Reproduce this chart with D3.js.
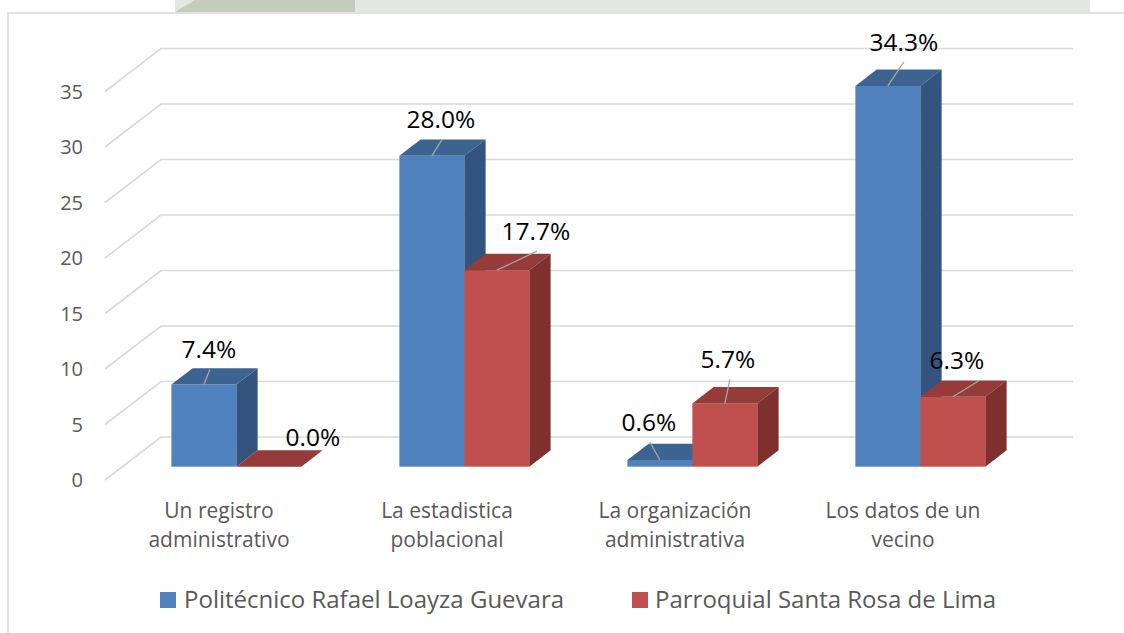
<!DOCTYPE html>
<html>
<head>
<meta charset="utf-8">
<script src="https://cdn.jsdelivr.net/npm/d3@7"></script>
<style>
  body { margin: 0; background: #fff; }
  svg { display: block; font-family: "Open Sans", sans-serif; }
</style>
</head>
<body>
<div id="chart"></div>
<script>
// Chart data
const categories = ['Un registro\nadministrativo', 'La estadistica\npoblacional',
  'La organización\nadministrativa', 'Los datos de un\nvecino'];
const seriesNames = ['Politécnico Rafael Loayza Guevara', 'Parroquial Santa Rosa de Lima'];
const politecnico = [7.4, 28.0, 0.6, 34.3];
const parroquial = [0.0, 17.7, 5.7, 6.3];
const yTicks = [0, 5, 10, 15, 20, 25, 30, 35];

// Manual label nudges (dx, dy from front-top midpoint of each bar, leader end dx)
const labelNudge = [
  [[5, -35, 1], [44, -29, null]],
  [[9, -36, 1], [39, -39, 1]],
  [[-11, -38, 1], [3, -44, 2]],
  [[16, -44, 0], [4, -36, 22]]
];

let w = 1124, h = 633,
  depthX = 56, depthY = 43, // floor depth of the 3d box
  barFront = 0.31, barDepth = 0.38, // where bars sit inside the depth
  colors = ['#4F81BD', '#C0504D'],
  topColors = ['#3D6490', '#953B39'],
  sideColors = ['#33547F', '#7D302E'];

let svg = d3.select('#chart').append('svg')
  .attr('width', w).attr('height', h);

// faint page watermark above the chart frame
svg.append('rect').attr('x', 175).attr('y', 0).attr('width', 915).attr('height', 12)
  .attr('fill', '#e3e7e0');
svg.append('path').attr('d', 'M175,12 L195,0 L355,0 L355,12 Z').attr('fill', '#c3ccbd');

// chart frame
svg.append('rect').attr('x', 8).attr('y', 13).attr('width', 1130).attr('height', 640)
  .attr('fill', '#fff').attr('stroke', '#d9d9d9').attr('stroke-width', 1.5);

let y = d3.scaleLinear().domain([0, 35]).range([480, 91.5]);
let x = d3.scaleBand().domain(categories).range([105, 1017]);

// gridlines: left wall diagonal + back wall
svg.append('g').selectAll('path').data(yTicks).join('path')
  .attr('d', t => `M105,${y(t)} L${105 + depthX},${y(t) - depthY} L1073,${y(t) - depthY}`)
  .attr('fill', 'none').attr('stroke', '#d9d9d9').attr('stroke-width', 1.6);

// y tick labels
svg.append('g').selectAll('text').data(yTicks).join('text')
  .attr('x', 83).attr('y', t => y(t)).attr('dy', '0.35em')
  .attr('text-anchor', 'end').attr('fill', '#595959').attr('font-size', 20)
  .text(d => d);

// category labels
let catG = svg.append('g');
categories.forEach(c => {
  let t = catG.append('text').attr('text-anchor', 'middle')
    .attr('fill', '#595959').attr('font-size', 21);
  c.split('\n').forEach((line, i) => {
    t.append('tspan').attr('x', x(c) + x.bandwidth() / 2).attr('y', 518 + i * 29).text(line);
  });
});

// bars
let barW = x.bandwidth() * 0.285;
let x1 = d3.scaleBand().domain([0, 1]).range([-barW, barW]);
let fx = barFront * depthX, fy = barFront * depthY;
let ddx = barDepth * depthX, ddy = barDepth * depthY;
let values = [politecnico, parroquial];
let barG = svg.append('g');

categories.forEach((c, ci) => {
  let cx = x(c) + x.bandwidth() / 2 + fx;
  [0, 1].forEach(si => {
    let v = values[si][ci];
    let x0 = cx + x1(si), xr = x0 + barW;
    let yb = y(0) - fy, yt = y(v) - fy;
    let g = barG.append('g');
    g.append('rect').attr('x', x0).attr('y', yt).attr('width', barW).attr('height', yb - yt)
      .attr('fill', colors[si]);
    g.append('path')
      .attr('d', `M${x0},${yt} L${xr},${yt} L${xr + ddx},${yt - ddy} L${x0 + ddx},${yt - ddy} Z`)
      .attr('fill', topColors[si]);
    g.append('path')
      .attr('d', `M${xr},${yt} L${xr + ddx},${yt - ddy} L${xr + ddx},${yb - ddy} L${xr},${yb} Z`)
      .attr('fill', sideColors[si]);
  });
});

// data labels with leader lines
let labG = svg.append('g');
categories.forEach((c, ci) => {
  let cx = x(c) + x.bandwidth() / 2 + fx;
  [0, 1].forEach(si => {
    let v = values[si][ci];
    let mx = cx + x1(si) + barW / 2, my = y(v) - fy;
    let [ndx, ndy, ldx] = labelNudge[ci][si];
    let lx = mx + ndx, ly = my + ndy;
    if (ldx !== null) {
      labG.append('line').attr('x1', mx).attr('y1', my)
        .attr('x2', lx + ldx).attr('y2', ly + 20)
        .attr('stroke', '#a6a6a6').attr('stroke-width', 1.3);
    }
    labG.append('text').attr('x', lx).attr('y', ly).attr('dy', '0.35em')
      .attr('text-anchor', 'middle').attr('font-size', 24.5).attr('fill', '#000')
      .text(v.toFixed(1) + '%');
  });
});

// legend
let legend = svg.append('g');
[[160, 184], [632, 655]].forEach(([sx, tx], i) => {
  legend.append('rect').attr('x', sx).attr('y', 592).attr('width', 16).attr('height', 16)
    .attr('fill', colors[i]);
  legend.append('text').attr('x', tx).attr('y', 600).attr('dy', '0.35em')
    .attr('fill', '#595959').attr('font-size', 24).text(seriesNames[i]);
});
</script>
</body>
</html>
